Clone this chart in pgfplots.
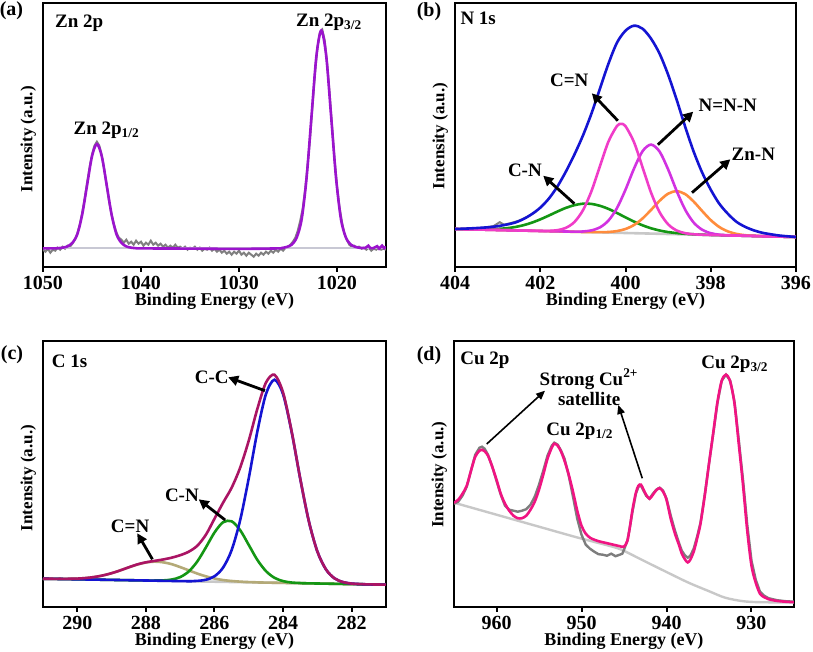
\documentclass[border=0pt]{standalone}
\usepackage{fontspec}
\setmainfont{Liberation Serif}
\usepackage{pgfplots}
\pgfplotsset{compat=1.18}
\usetikzlibrary{arrows.meta}
\definecolor{zpurple}{RGB}{155,20,205}
\definecolor{rawgray}{RGB}{128,128,128}
\definecolor{bggray}{RGB}{200,200,212}
\definecolor{nblue}{RGB}{20,20,210}
\definecolor{ngreen}{RGB}{20,150,20}
\definecolor{npink}{RGB}{240,60,200}
\definecolor{nviolet}{RGB}{210,50,225}
\definecolor{norange}{RGB}{255,140,60}
\definecolor{cenv}{RGB}{170,20,100}
\definecolor{colive}{RGB}{180,170,120}
\definecolor{cfill}{RGB}{255,252,222}
\definecolor{dpink}{RGB}{240,20,130}
\definecolor{dbg}{RGB}{200,200,200}
\definecolor{rawd}{RGB}{125,125,125}
\pgfplotsset{xps/.style={
  scale only axis, x dir=reverse, ymin=0, ytick=\empty,
  axis line style={line width=1.1pt},
  tick align=outside, xtick pos=bottom, major tick length=2.5pt,
  every tick/.style={line width=1pt, black},
  /pgf/number format/assume math mode=true,
  /pgf/number format/1000 sep={},
  tick label style={font=\bfseries\fontsize{10}{12}\selectfont},
  xticklabel style={yshift=1.5pt},
  xlabel={Binding Energy (eV)},
  ylabel={Intensity (a.u.)},
  xlabel style={font=\bfseries\fontsize{9}{11}\selectfont, yshift=5pt},
  ylabel style={font=\bfseries\fontsize{8.5}{10}\selectfont, at={(axis description cs:0,0.5)}, anchor=south},
  every axis plot/.append style={line width=1.3pt},
}}
\tikzset{ann/.style={font=\bfseries\fontsize{9.5}{11}\selectfont, inner sep=0pt},
  arr/.style={line width=1.4pt, -{Triangle[length=5pt,width=5pt]}},
  arrthin/.style={line width=0.8pt, -{Triangle[length=4.5pt,width=3.8pt]}}}
\begin{document}
\begin{tikzpicture}
\useasboundingbox (0pt,0pt) rectangle (406.5pt,326pt);
% ---------------- (a) ----------------
\begin{axis}[xps, at={(21.5pt,192.65pt)}, anchor=south west, width=171.5pt, height=131.7pt,
  xmin=1015, xmax=1050, ymax=263.4, xtick={1020,1030,1040,1050}, ylabel style={xshift=-2.2pt}]
\addplot[rawgray, line width=1pt] coordinates {
(1050,17)(1049.75,15)(1049.5,18)(1049.25,14)(1049,17)(1048.75,16)(1048.5,19)(1048.25,17)(1048,20)(1047.75,18)(1047.5,21)(1047.25,20)(1047,23)(1046.75,27)(1046.5,33)(1046.25,42)(1046,54)(1045.75,68)(1045.5,84)(1045.25,99)(1045,112)(1044.75,121)(1044.5,125)(1044.25,121)(1044,111)(1043.75,97)(1043.5,81)(1043.25,65)(1043,52)(1042.75,42)(1042.5,34)(1042.25,29)(1042,27)(1041.75,24)(1041.5,27)(1041.25,23)(1041,25)(1040.75,22)(1040.5,26)(1040.25,23)(1040,25)(1039.75,21)(1039.5,24)(1039.25,22)(1039,26)(1038.75,22)(1038.5,24)(1038.25,21)(1038,23)(1037.75,20)(1037.5,22)(1037.25,19)(1037,21)(1036.75,19)(1036.5,22)(1036.25,19)(1036,20)(1035.75,18)(1035.5,20)(1035.25,17)(1035,19)(1034.75,18)(1034.5,20)(1034.25,17)(1034,19)(1033.75,16)(1033.5,18)(1033.25,17)(1033,19)(1032.75,16)(1032.5,18)(1032.25,15)(1032,17)(1031.75,14)(1031.5,16)(1031.25,13)(1031,15)(1030.75,12)(1030.5,15)(1030.25,13)(1030,16)(1029.75,12)(1029.5,14)(1029.25,11)(1029,14)(1028.75,12)(1028.5,10)(1028.25,13)(1028,11)(1027.75,14)(1027.5,12)(1027.25,15)(1027,13)(1026.75,16)(1026.5,14)(1026.25,17)(1026,15)(1025.75,18)(1025.5,16)(1025.25,19)(1025,20)(1024.75,22)(1024.5,25)(1024.25,29)(1024,36)(1023.75,46)(1023.5,58)(1023.25,77)(1023,102)(1022.75,128)(1022.5,161)(1022.25,193)(1022,219)(1021.75,234)(1021.5,237)(1021.25,226)(1021,203)(1020.75,173)(1020.5,140)(1020.25,108)(1020,81)(1019.75,60)(1019.5,45)(1019.25,33)(1019,27)(1018.75,22)(1018.5,20)(1018.25,21)(1018,19)(1017.75,20)(1017.5,18)(1017.25,19)(1017,17)(1016.75,19)(1016.5,16)(1016.25,18)(1016,17)(1015.75,19)(1015.5,17)(1015.25,18)(1015,17)};
\addplot[bggray, line width=1.1pt] coordinates {(1050,18.3)(1015,18.3)};
\addplot[zpurple, smooth] coordinates {
(1050,18.3)(1049,18.3)(1048.5,18.5)(1048,19.0)(1047.5,20.3)(1047,23.9)(1046.5,32.4)(1046,52.2)(1045.5,81.6)(1045,110.4)(1044.5,122.7)(1044,110.4)(1043.5,81.6)(1043,52.2)(1042.5,32.4)(1042,23.9)(1041.5,20.3)(1041,19.0)(1040.5,18.5)(1040,18.3)(1035,18.1)(1030,17.8)(1026,18.3)(1025.6,18.8)(1025.1,19.8)(1024.6,22.2)(1024.1,29.4)(1023.6,47.8)(1023.1,89.1)(1022.6,150.5)(1022.1,210.7)(1021.6,236.3)(1021.1,210.7)(1020.6,150.5)(1020.1,89.1)(1019.6,47.8)(1019.1,29.4)(1018.6,22.2)(1018.1,19.8)(1017.6,18.8)(1017.1,18.8)(1016.8,21)(1016.6,18.5)(1016.3,18.5)(1015.9,20.5)(1015.7,18)(1015.4,21)(1015.2,18.5)(1015,20)};
\node[ann, anchor=west] at (axis cs:1048.8,243) {Zn 2p};
\node[ann] at (axis cs:1020.8,244.5) {Zn 2p\textsubscript{3/2}};
\node[ann] at (axis cs:1043.5,136) {Zn 2p\textsubscript{1/2}};
\end{axis}
% ---------------- (b) ----------------
\begin{axis}[xps, at={(227.5pt,192.65pt)}, anchor=south west, width=170.5pt, height=131.7pt,
  xmin=396, xmax=404, ymax=263.4, xtick={396,398,400,402,404}, ylabel style={xshift=-0.5pt}]
\addplot[dbg, line width=1.3pt] coordinates {(404,37.7)(396,29.7)};
\addplot[rawgray, line width=1pt] coordinates {(404,37.5)(403.7,38)(403.4,38.6)(403.1,40.5)(402.95,44.5)(402.85,42)(402.7,43.5)(402.5,46)(402.3,50)(402.1,55)};
\addplot[ngreen, smooth] coordinates {(396,29.7)(397,30.7)(398.0,31.75)(398.2,32.0)(398.4,32.4)(398.6,32.9)(398.8,33.6)(399.0,34.6)(399.2,36.2)(399.4,38.4)(399.6,41.4)(399.8,45.1)(400.0,49.3)(400.2,53.7)(400.4,57.8)(400.6,60.9)(400.8,62.8)(401.0,63.0)(401.2,61.5)(401.4,58.8)(401.6,55.1)(401.8,51.1)(402.0,47.3)(402.2,44.0)(402.4,41.4)(402.6,39.6)(402.8,38.4)(403.0,37.8)(403.2,37.5)(403.4,37.4)(403.6,37.4)(403.8,37.55)(404,37.7)};
\addplot[norange, smooth] coordinates {(396,29.7)(396.8,30.55)(397.0,30.9)(397.2,31.5)(397.4,32.8)(397.6,35.3)(397.8,39.7)(398.0,46.6)(398.2,55.6)(398.4,65.1)(398.6,72.6)(398.8,75.5)(399.0,73.0)(399.2,65.9)(399.4,56.8)(399.6,48.2)(399.8,41.7)(400.0,37.7)(400.2,35.6)(400.4,34.7)(400.6,34.5)(401,34.7)(402,35.7)(404,37.7)};
\addplot[nviolet, smooth] coordinates {(396,29.7)(397,30.7)(397.6,31.45)(397.8,32.0)(398.0,33.5)(398.2,36.9)(398.4,44.1)(398.6,57.0)(398.8,75.8)(399.0,97.3)(399.2,115.1)(399.4,122.1)(399.6,115.5)(399.8,98.1)(400.0,77.0)(400.2,58.6)(400.4,46.1)(400.6,39.3)(400.8,36.3)(401.0,35.2)(401.2,35.05)(402,35.7)(403,36.7)(404,37.7)};
\addplot[npink, smooth] coordinates {(396,29.7)(397,30.7)(398.0,31.7)(398.2,32.0)(398.4,32.4)(398.6,33.5)(398.8,36.2)(399.0,42.4)(399.2,54.5)(399.4,74.0)(399.6,99.4)(399.8,124.5)(400.0,140.5)(400.1,142.8)(400.2,140.7)(400.4,125.1)(400.6,100.4)(400.8,75.4)(401.0,56.3)(401.2,44.6)(401.4,38.8)(401.6,36.5)(401.8,35.8)(402.0,35.8)(403,36.7)(404,37.7)};
\addplot[nblue, smooth] coordinates {(404.0,37.7)(403.8,38.0)(403.6,38.4)(403.4,38.9)(403.2,39.5)(403.0,40.5)(402.8,42)(402.6,44)(402.4,47.5)(402.2,52.5)(402.0,59)(401.8,68)(401.6,80)(401.4,95)(401.2,112)(401.0,131)(400.8,153)(400.6,178)(400.4,203)(400.2,224)(400.0,236)(399.8,241)(399.6,238)(399.4,228)(399.2,213)(399.0,192)(398.8,167)(398.6,140)(398.4,115)(398.2,94)(398.0,77)(397.8,63)(397.6,53)(397.4,45)(397.2,40)(397.0,36.5)(396.8,34)(396.6,32.5)(396.4,31.2)(396.2,30.4)(396.0,29.7)};
\draw[arr] (axis cs:400.18,146) -- (axis cs:400.79,173.4);
\draw[arr] (axis cs:399.24,122) -- (axis cs:398.41,155);
\draw[arr] (axis cs:398.44,74) -- (axis cs:397.54,107.4);
\draw[arr] (axis cs:401.2,63) -- (axis cs:401.93,91);
\node[ann, anchor=west] at (axis cs:403.88,248.4) {N 1s};
\node[ann] at (axis cs:401.32,186.7) {C=N};
\node[ann] at (axis cs:397.6,161.5) {N=N-N};
\node[ann] at (axis cs:397.0,112.7) {Zn-N};
\node[ann] at (axis cs:402.36,96.7) {C-N};
\end{axis}
% ---------------- (c) ----------------
\begin{axis}[xps, at={(21.5pt,22.65pt)}, anchor=south west, width=171.5pt, height=133pt,
  xmin=281, xmax=291, ymax=266, xtick={282,284,286,288,290}, ylabel style={xshift=-2.2pt}]
\addplot[dbg, line width=1.3pt] coordinates {(291,28)(281,22)};
\addplot[cfill, draw=none] coordinates {(284.5,24.1)(284.75,24.35)(285,24.6)(285.25,25.05)(285.5,25.7)(285.75,26.65)(286,28.2)(286.25,30.35)(286.5,33.1)(286.75,36.35)(287,39.6)(287.25,42.55)(287.5,44.4)(287.75,45.05)(288,44.2)(288.25,42.15)(288.5,39.3)(288.75,36.25)(289,33.5)(289.25,31.25)(289.5,29.7)(289.75,28.65)(290,28.1)(290.25,27.85)(290.5,27.85)(290.75,27.85)(291,28)};
\addplot[colive, smooth] coordinates {(281,22)(284.5,24.1)(284.75,24.35)(285,24.6)(285.25,25.05)(285.5,25.7)(285.75,26.65)(286,28.2)(286.25,30.35)(286.5,33.1)(286.75,36.35)(287,39.6)(287.25,42.55)(287.5,44.4)(287.75,45.05)(288,44.2)(288.25,42.15)(288.5,39.3)(288.75,36.25)(289,33.5)(289.25,31.25)(289.5,29.7)(289.75,28.65)(290,28.1)(290.25,27.85)(290.5,27.85)(290.75,27.85)(291,28)};
\addplot[ngreen, smooth] coordinates {(281,22)(283.25,23.35)(283.5,23.65)(283.75,24.15)(284,25.6)(284.25,28.85)(284.5,35.6)(284.75,46.75)(285,61.7)(285.25,76.45)(285.5,85.4)(285.75,84.45)(286,74.2)(286.25,59.35)(286.5,45.3)(286.75,35.25)(287,29.6)(287.25,27.15)(287.5,26.3)(287.75,26.15)(288,26.2)(291,28)};
\addplot[nblue, smooth] coordinates {(281,22.0)(281.25,22.15)(281.5,22.3)(281.75,22.55)(282,23.1)(282.25,24.55)(282.5,28.3)(282.75,37.25)(283,55.1)(283.25,85.55)(283.5,127.8)(283.75,174.65)(284,212.3)(284.25,226.95)(284.5,212.6)(284.75,175.25)(285,128.7)(285.25,86.75)(285.5,56.6)(285.75,39.05)(286,30.4)(286.25,26.95)(286.5,25.8)(286.75,25.55)(287,25.6)(291,28)};
\addplot[cenv, smooth] coordinates {(281,22.0)(281.25,22.2)(281.5,22.3)(281.75,22.6)(282,23.1)(282.25,24.6)(282.5,28.3)(282.75,37.3)(283,55.1)(283.25,85.6)(283.5,128.0)(283.75,175.2)(284,214.1)(284.25,231.9)(284.5,224.1)(284.75,197.9)(285,166.2)(285.25,139.2)(285.5,119)(285.75,104)(286,88)(286.25,72)(286.5,61)(286.75,55)(287,51.5)(287.25,49)(287.5,47.2)(287.75,45.8)(288,44.4)(288.25,42.3)(288.5,39.4)(288.75,36.3)(289,33.5)(289.25,31.3)(289.5,29.7)(289.75,28.7)(290,28.1)(290.25,27.9)(290.5,27.9)(290.75,27.9)(291,28.0)};
\draw[arr] (axis cs:284.53,216) -- (axis cs:285.6,229.4);
\draw[arr] (axis cs:285.69,86.7) -- (axis cs:286.46,107.4);
\draw[arr] (axis cs:287.81,47.4) -- (axis cs:288.25,73.4);
\node[ann, anchor=west] at (axis cs:290.75,245.4) {C 1s};
\node[ann] at (axis cs:286.08,229.7) {C-C};
\node[ann] at (axis cs:286.95,111.4) {C-N};
\node[ann] at (axis cs:288.46,80.4) {C=N};
\end{axis}
% ---------------- (d) ----------------
\begin{axis}[xps, at={(227pt,22.65pt)}, anchor=south west, width=170pt, height=133pt,
  xmin=925, xmax=965, ymax=266, xtick={930,940,950,960}, ylabel style={xshift=-0.5pt}]
\addplot[dbg, smooth, line width=1.2pt] coordinates {(965,104)(960,92)(955,80)(950.4,69)(947,61.5)(945.3,57)(943,47.3)(940,34.7)(937.4,24)(935,15.5)(933.1,9)(931,5.5)(929,4.5)(925,4.3)};
\addplot[rawd, line width=1.2pt] coordinates {(965,103)(964.5,105)(964,111)(963.5,120)(963,136)(962.5,152)(962,159)(961.7,160)(961.4,158)(961,152)(960.5,140)(960,126)(959.5,112)(959,101)(958.5,97)(958,96)(957.5,95)(957,96)(956.5,97.5)(956,102)(955.5,110)(955,122)(954.5,136)(954,151)(953.5,161)(953.2,164)(952.8,162)(952.4,156)(952,148)(951.5,131)(951,110)(950.5,88)(950,72)(949.5,62)(949,58)(948.5,55)(948,52.5)(947.5,52)(947,51)(946.5,53)(946,50.5)(945.5,52)(945.2,53)(945,57)(944.6,66)(944.3,80)(944,95)(943.6,113)(943.3,120)(943,121)(942.7,116)(942.4,111)(942,108)(941.6,113)(941.2,117)(940.8,119)(940.4,116)(940,108)(939.5,91)(939,76)(938.5,63)(938.2,56)(937.8,51)(937.5,49)(937.2,51)(936.8,58)(936.4,70)(936,84)(935.5,112)(935,143)(934.5,173)(934,204)(933.5,226)(933,232)(932.5,226)(932,205)(931.5,167)(931,127)(930.5,82)(930,46)(929.5,27)(929,15)(928.5,11)(928,8.5)(927,6.5)(926,5.5)(925,5)};
\addplot[dpink, smooth] coordinates {(965,104)(964.5,107)(964,113)(963.5,121)(963,136)(962.5,150)(962,156)(961.7,157)(961.4,155.5)(961,151)(960.5,140)(960,127)(959.5,113)(959,103)(958.5,96)(958,91)(957.5,88.5)(957,88.5)(956.5,91)(956,97)(955.5,105)(955,117)(954.5,132)(954,148)(953.5,159)(953.2,163)(952.8,161)(952.4,155)(952,146)(951.5,132)(951,115)(950.5,96)(950,81)(949.5,73)(949,69)(948.5,67)(948,65.5)(947,63.5)(946,61.5)(945.5,60.5)(945,60)(944.6,66)(944.3,80)(944,97)(943.6,114)(943.3,121)(943.0,122)(942.7,117)(942.4,112)(942.0,108)(941.6,112)(941.2,116.5)(940.8,118.5)(940.4,115)(940.0,107)(939.5,88)(939.0,73)(938.5,61)(938.2,53)(937.8,47)(937.5,44.3)(937.2,47)(936.8,55)(936.4,68)(936.0,83)(935.5,111)(935.0,143)(934.5,174)(934.0,205)(933.5,226)(933.0,232)(932.5,225)(932.0,203)(931.5,163)(931.0,122)(930.5,76)(930.0,41)(929.5,24)(929.0,13)(928.5,9.5)(928.0,7.5)(927,5.8)(926,5)(925,4.5)};
\draw[arrthin] (axis cs:961.15,162.7) -- (axis cs:954.29,216);
\draw[arrthin] (axis cs:942.85,128.4) -- (axis cs:945.67,201.7);
\node[ann, anchor=west] at (axis cs:964.3,246) {Cu 2p};
\node[ann] at (axis cs:931.94,242) {Cu 2p\textsubscript{3/2}};
\node[ann, align=center, font=\bfseries\fontsize{9.5}{8.6}\selectfont] at (axis cs:949.1,219.5) {Strong Cu\textsuperscript{2+}\\satellite};
\node[ann] at (axis cs:950.18,175) {Cu 2p\textsubscript{1/2}};
\end{axis}
\node[font=\bfseries\fontsize{10}{12}\selectfont] at (5.75pt,320.5pt) {(a)};
\node[font=\bfseries\fontsize{10}{12}\selectfont] at (214.5pt,320pt) {(b)};
\node[font=\bfseries\fontsize{10}{12}\selectfont] at (6pt,148.5pt) {(c)};
\node[font=\bfseries\fontsize{10}{12}\selectfont] at (214.5pt,148pt) {(d)};
\end{tikzpicture}
\end{document}
